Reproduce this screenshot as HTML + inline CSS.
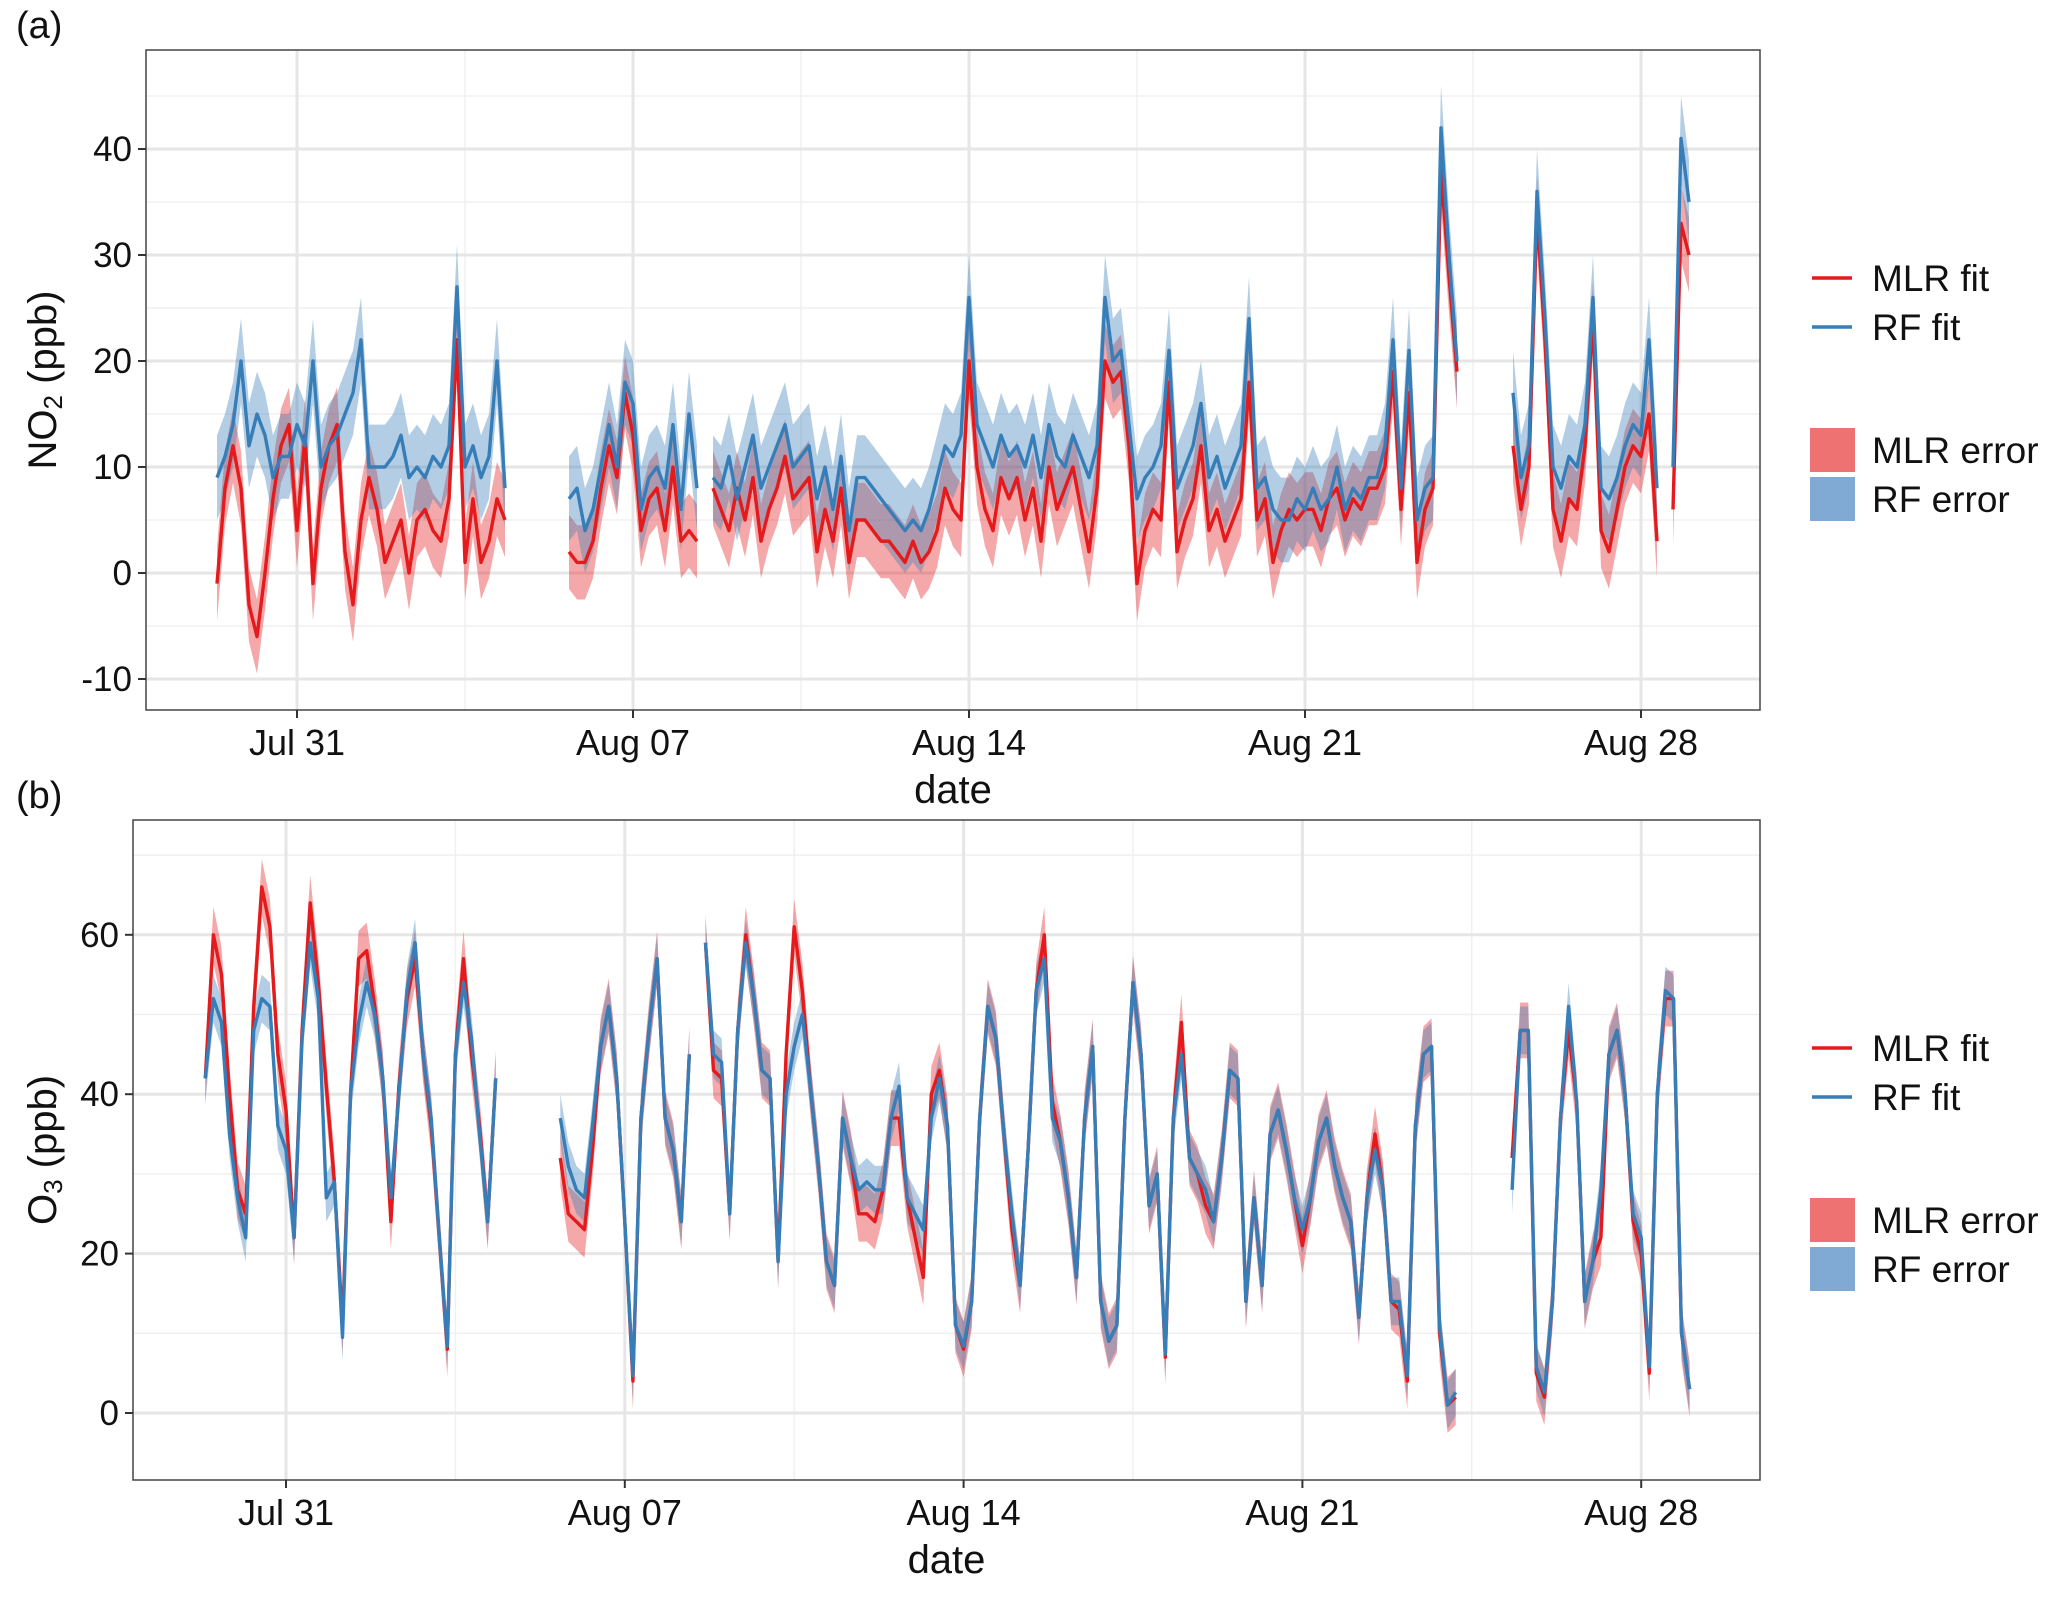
<!DOCTYPE html>
<html><head><meta charset="utf-8"><style>
html,body{margin:0;padding:0;background:#fff;}
svg{display:block;font-family:"Liberation Sans",sans-serif;}
</style></head><body>
<svg id="fig" width="2067" height="1597" viewBox="0 0 2067 1597">
<rect x="0" y="0" width="2067" height="1597" fill="#fff"/>
</svg>
<script>
// time grid: 4-hour steps starting Jul 29 00:00 (day offset -2 relative to Jul 31)
const startDay = -2;
const stepDay = 1/6;
const dateTickDays = [0, 7, 14, 21, 28];
const dateTickLabels = ["Jul 31", "Aug 07", "Aug 14", "Aug 21", "Aug 28"];
const no2Ticks = [-10, 0, 10, 20, 30, 40];
const o3Ticks = [0, 20, 40, 60];
const _ = null;
const no2RF = [
 _,_,9,11,14,20, 12,15,13,9,11,11, 14,12,20,10,12,13, 15,17,22,10,10,10, 11,13,9,10,9,11,
 10,12,27,10,12,9, 11,20,8,_,_,_, _,_,_,_,7,8, 4,6,10,14,10,18, 16,6,9,10,8,14,
 6,15,8,_,9,8, 11,7,10,13,8,10, 12,14,10,11,12,7, 10,6,11,4,9,9, 8,7,6,5,4,5,
 4,6,9,12,11,13, 26,14,12,10,13,11, 12,10,13,9,14,11, 10,13,11,9,12,26, 20,21,14,7,9,10,
 12,21,8,10,12,16, 9,11,8,10,12,24, 8,9,6,5,5,7, 6,8,6,7,10,6, 8,7,9,9,12,22,
 8,21,5,8,9,42, 30,20,_,_,_,_, _,_,17,9,12,36, 24,10,8,11,10,14, 26,8,7,9,12,14,
 13,22,8,_,10,41, 35];
const no2MLR = [
 _,_,-1,8,12,8, -3,-6,0,7,12,14, 4,13,-1,8,12,14, 2,-3,5,9,6,1, 3,5,0,5,6,4,
 3,7,22,1,7,1, 3,7,5,_,_,_, _,_,_,_,2,1, 1,3,8,12,9,17, 13,4,7,8,4,10,
 3,4,3,_,8,6, 4,8,5,9,3,6, 8,11,7,8,9,2, 6,3,8,1,5,5, 4,3,3,2,1,3,
 1,2,4,8,6,5, 20,10,6,4,9,7, 9,5,8,3,10,6, 8,10,6,2,8,20, 18,19,12,-1,4,6,
 5,18,2,5,7,12, 4,6,3,5,7,18, 5,7,1,4,6,5, 6,6,4,7,8,5, 7,6,8,8,10,19,
 6,17,1,6,8,38, 28,19,_,_,_,_, _,_,12,6,10,34, 22,6,3,7,6,12, 24,4,2,6,10,12,
 11,15,3,_,6,33, 30];
const o3RF = [
 _,_,42,52,49,35, 27,22,48,52,51,36, 33,22,47,59,52,27, 29,9.5,40,49,54,50, 42,27,40,53,59,45,
 37,22,8.4,45,54,47, 35,24,42,_,_,_, _,_,_,_,37,31, 28,27,36,46,51,42, 24,4.7,37,48,57,37,
 33,24,45,_,59,45, 44,25,48,59,52,43, 42,19,40,46,50,41, 31,19,16,37,32,28, 29,28,28,37,41,27,
 25,23,37,42,36,11, 8.4,14,37,51,47,35, 25,16,33,53,57,37, 34,27,17,37,46,14, 9,11,37,54,45,26,
 30,7.4,37,45,32,30, 28,24,32,43,42,14, 27,16,35,38,33,27, 23,27,34,37,31,27, 24,12,27,33,28,14,
 14,4.7,36,45,46,11, 1,2.6,_,_,_,_, _,_,28,48,48,5.8, 2.6,14,37,51,39,14, 19,28,45,48,40,25,
 22,5.8,40,53,52,10, 3];
const o3MLR = [
 _,_,42,60,55,40, 28,25,51,66,61,45, 38,22,48,64,54,41, 29,11,40,57,58,51, 42,24,41,52,57,45,
 36,22,8,45,57,45, 36,24,42,_,_,_, _,_,_,_,32,25, 24,23,33,46,51,42, 24,4,37,48,57,37,
 33,24,45,_,59,43, 42,25,48,60,52,43, 42,19,45,61,53,41, 31,19,16,37,32,25, 25,24,28,37,37,27,
 22,17,40,43,36,11, 8,14,37,51,47,35, 23,16,33,53,60,39, 34,27,17,37,46,14, 9,11,37,54,45,26,
 30,7,37,49,32,30, 26,24,32,43,42,14, 27,16,35,38,33,27, 21,27,34,37,31,27, 24,12,27,35,28,14,
 13,4,36,45,46,10, 1,2,_,_,_,_, _,_,32,48,48,5, 2,14,37,48,39,14, 19,22,45,48,40,24,
 20,5,40,52,52,10, 3];
const no2ErrMLR = 3.5, no2ErrRF = 4;
const o3ErrMLR = 3.5, o3ErrRF = 3;

const NS = "http://www.w3.org/2000/svg";
const svg = document.getElementById('fig');
function mk(tag, attrs, parent){ const e=document.createElementNS(NS,tag); for(const k in attrs) e.setAttribute(k,attrs[k]); (parent||svg).appendChild(e); return e; }

function drawPanel(cfg){
  const g = mk('g',{});
  
  
  const xS = d => cfg.x0 + cfg.pxDay*d;
  const yS = v => cfg.yZero - cfg.pxUnit*v;
  const tOf = i => startDay + i*stepDay;
  for(let d=-3.5; d<=31.5; d+=7){ const x=xS(d); if(x>cfg.L&&x<cfg.R) mk('line',{x1:x,x2:x,y1:cfg.T,y2:cfg.B,stroke:'#f0f0f0','stroke-width':1.5},g); }
  for(let k=0;k<cfg.yTicks.length;k++){ const v=cfg.yTicks[k]+cfg.minorStep; const y=yS(v); if(y>cfg.T&&y<cfg.B) mk('line',{x1:cfg.L,x2:cfg.R,y1:y,y2:y,stroke:'#f0f0f0','stroke-width':1.5},g); }
  const vb=yS(cfg.yTicks[0]-cfg.minorStep); if(vb>cfg.T&&vb<cfg.B) mk('line',{x1:cfg.L,x2:cfg.R,y1:vb,y2:vb,stroke:'#f0f0f0','stroke-width':1.5},g);
  dateTickDays.forEach(d=>{ const x=xS(d); mk('line',{x1:x,x2:x,y1:cfg.T,y2:cfg.B,stroke:'#e6e6e6','stroke-width':3},g); });
  cfg.yTicks.forEach(v=>{ const y=yS(v); mk('line',{x1:cfg.L,x2:cfg.R,y1:y,y2:y,stroke:'#e6e6e6','stroke-width':3},g); });
  function segments(arr){ const segs=[]; let cur=[]; arr.forEach((v,i)=>{ if(v===null){ if(cur.length) segs.push(cur); cur=[]; } else cur.push([tOf(i),v]); }); if(cur.length) segs.push(cur); return segs; }
  function band(arr, err, color, nm){
    segments(arr).forEach(s=>{
      const up=s.map(p=>xS(p[0]).toFixed(1)+','+yS(p[1]+err).toFixed(1));
      const lo=s.slice().reverse().map(p=>xS(p[0]).toFixed(1)+','+yS(p[1]-err).toFixed(1));
      const p=mk('polygon',{points:up.concat(lo).join(' '),fill:color,'fill-opacity':0.38},g);
      
      
    });
  }
  function line(arr, color, nm){
    segments(arr).forEach(s=>{
      const p=mk('polyline',{points:s.map(q=>xS(q[0]).toFixed(1)+','+yS(q[1]).toFixed(1)).join(' '),fill:'none',stroke:color,'stroke-width':3.4,'stroke-linejoin':'round'},g);
      
      
    });
  }
  band(cfg.mlr, cfg.errM, '#e41a1c', 'mlr-error-band');
  band(cfg.rf, cfg.errR, '#377eb8', 'rf-error-band');
  line(cfg.mlr, '#e41a1c', 'mlr-fit-line');
  line(cfg.rf, '#377eb8', 'rf-fit-line');
  const b=mk('rect',{x:cfg.L,y:cfg.T,width:cfg.R-cfg.L,height:cfg.B-cfg.T,fill:'none',stroke:'#444','stroke-width':1.5},g);
  
  
  cfg.yTicks.forEach(v=>{ const y=yS(v);
    mk('line',{x1:cfg.L-8,x2:cfg.L,y1:y,y2:y,stroke:'#333','stroke-width':2},g);
    const t=mk('text',{x:cfg.L-14,y:y+12,'text-anchor':'end','font-size':35,fill:'#111'},g); t.textContent=v;
    
    
  });
  dateTickDays.forEach((d,i)=>{ const x=xS(d);
    mk('line',{x1:x,x2:x,y1:cfg.B,y2:cfg.B+8,stroke:'#333','stroke-width':2},g);
    const t=mk('text',{x:x,y:cfg.B+45,'text-anchor':'middle','font-size':36,fill:'#111'},g); t.textContent=dateTickLabels[i];
    
    
  });
  const xt=mk('text',{x:(cfg.L+cfg.R)/2,y:cfg.B+93,'text-anchor':'middle','font-size':40,fill:'#111'},g); xt.textContent='date';
  
  
  const cy=(cfg.T+cfg.B)/2;
  const yt=mk('text',{x:0,y:0,'text-anchor':'middle','font-size':40,fill:'#111',transform:`translate(${cfg.ytX},${cy}) rotate(-90)`},g);
  yt.innerHTML=cfg.ytitle;
  
  
  const pl=mk('text',{x:16,y:cfg.T-12,'font-size':38,fill:'#111'},g); pl.textContent=cfg.label;
  
  
  const lg=mk('g',{},g);
  
  
  const ly=cfg.legY;
  [['MLR fit','#e41a1c',0],['RF fit','#377eb8',49]].forEach(e=>{
    mk('line',{x1:1812,x2:1852,y1:ly+e[2],y2:ly+e[2],stroke:e[1],'stroke-width':3.5},lg);
    const t=mk('text',{x:1872,y:ly+e[2]+13,'font-size':37,fill:'#111'},lg); t.textContent=e[0];
    
    
  });
  [['MLR error','#ef7272',172],['RF error','#80aad4',221]].forEach(e=>{
    mk('rect',{x:1810,y:ly+e[2]-22,width:45,height:44,fill:e[1]},lg);
    const t=mk('text',{x:1872,y:ly+e[2]+13,'font-size':37,fill:'#111'},lg); t.textContent=e[0];
    
    
  });
}

drawPanel({name:'no2-panel',label:'(a)',L:146,R:1760,T:50,B:710,x0:297,pxDay:48,yZero:573,pxUnit:10.6,
  yTicks:no2Ticks,minorStep:5,mlr:no2MLR,rf:no2RF,errM:no2ErrMLR,errR:no2ErrRF,ytX:56,
  ytitle:'NO<tspan font-size="26" dy="6">2</tspan><tspan dy="-6"> (ppb)</tspan>',legY:278});
drawPanel({name:'o3-panel',label:'(b)',L:133,R:1760,T:820,B:1480,x0:286,pxDay:48.4,yZero:1413,pxUnit:7.97,
  yTicks:o3Ticks,minorStep:10,mlr:o3MLR,rf:o3RF,errM:o3ErrMLR,errR:o3ErrRF,ytX:56,
  ytitle:'O<tspan font-size="26" dy="6">3</tspan><tspan dy="-6"> (ppb)</tspan>',legY:1048});
</script>
</body></html>
